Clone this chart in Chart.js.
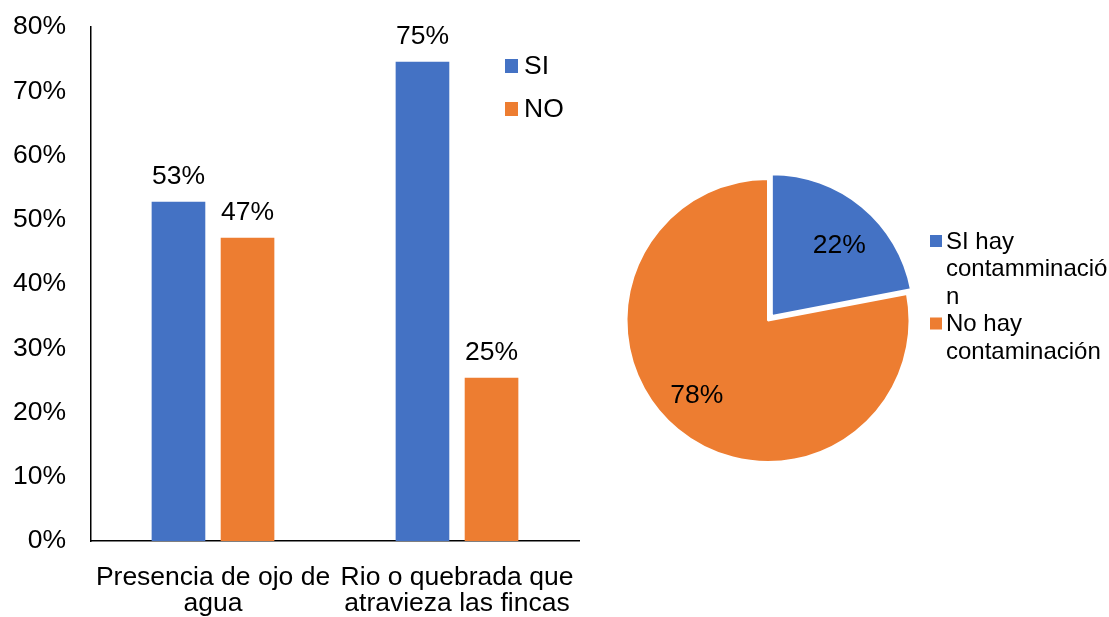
<!DOCTYPE html>
<html>
<head>
<meta charset="utf-8">
<script src="https://cdn.jsdelivr.net/npm/chart.js@4.4.0/dist/chart.umd.min.js"></script>
<style>
  html, body { margin: 0; padding: 0; background: #fff; }
  #wrap { position: relative; width: 1109px; height: 617px; }
  #bar { position: absolute; left: 0; top: 0; }
  #pie { position: absolute; left: 600px; top: 0; }
</style>
</head>
<body>
<div id="wrap">
  <canvas id="bar" width="600" height="617"></canvas>
  <canvas id="pie" width="509" height="617"></canvas>
</div>
<script>
// bar chart data
const categories = [["Presencia de ojo de", "agua"], ["Rio o quebrada que", "atravieza las fincas"]];
const seriesNames = ["SI", "NO"];
const siValues = [52.8, 74.6];
const noValues = [47.2, 25.4];
const yTickStep = 10;
const yMax = 80;

// pie chart data
const pieLabels = ["SI hay contamminación", "No hay contaminación"];
const pieLegendLines = [["SI hay", "contamminació", "n"], ["No hay", "contaminación"]];
const pieValues = [22, 78];

const BLUE = "#4472C4";
const ORANGE = "#ED7D31";
const FONT_FAMILY = '"Liberation Sans", Arial, sans-serif';

Chart.defaults.font.family = FONT_FAMILY;
Chart.defaults.color = "#000";

// value labels above the bars
const barLabels = {
  id: "barLabels",
  afterDatasetsDraw(chart) {
    const ctx = chart.ctx;
    ctx.save();
    ctx.font = "26.5px " + FONT_FAMILY;
    ctx.fillStyle = "#000";
    ctx.textAlign = "center";
    ctx.textBaseline = "middle";
    chart.data.datasets.forEach((ds, i) => {
      chart.getDatasetMeta(i).data.forEach((bar, j) => {
        ctx.fillText(Math.round(ds.data[j]) + "%", bar.x, bar.y - 25);
      });
    });
    ctx.restore();
  }
};

// legend sitting inside the plot, top right
const barLegend = {
  id: "barLegend",
  afterDraw(chart) {
    const ctx = chart.ctx;
    ctx.save();
    ctx.font = "26.5px " + FONT_FAMILY;
    ctx.textBaseline = "middle";
    ctx.textAlign = "left";
    chart.data.datasets.forEach((ds, i) => {
      const y = 66 + i * 43;
      ctx.fillStyle = ds.backgroundColor;
      ctx.fillRect(505, y - 7, 13, 14);
      ctx.fillStyle = "#000";
      ctx.fillText(ds.label, 524, y + 1);
    });
    ctx.restore();
  }
};

new Chart(document.getElementById("bar"), {
  type: "bar",
  data: {
    labels: categories,
    datasets: [
      { label: seriesNames[0], data: siValues, backgroundColor: BLUE, categoryPercentage: 0.566, barPercentage: 0.777 },
      { label: seriesNames[1], data: noValues, backgroundColor: ORANGE, categoryPercentage: 0.566, barPercentage: 0.777 }
    ]
  },
  options: {
    responsive: false,
    animation: false,
    layout: { padding: { top: 27, right: 21, left: 0, bottom: 0 } },
    plugins: { legend: { display: false }, tooltip: { enabled: false } },
    scales: {
      x: {
        grid: { display: false, drawTicks: false },
        border: { color: "#000", width: 1.5 },
        ticks: {
          font: { size: 26.5, lineHeight: 1.0 },
          color: "#000",
          padding: 23,
          maxRotation: 0,
          autoSkip: false
        },
        afterFit: (s) => { s.height = 76; s.paddingLeft = 0; s.paddingRight = 0; }
      },
      y: {
        min: 0,
        max: yMax,
        grid: { display: false, drawTicks: false },
        border: { color: "#000", width: 1.5 },
        ticks: {
          stepSize: yTickStep,
          font: { size: 26.5 },
          color: "#000",
          padding: 25,
          callback: (v) => v + "%"
        },
        afterFit: (s) => { s.width = 91; s.paddingTop = 0; s.paddingBottom = 0; }
      }
    }
  },
  plugins: [barLabels, barLegend]
});

// percent labels inside the slices
const pieValueLabels = {
  id: "pieValueLabels",
  afterDatasetsDraw(chart) {
    const ctx = chart.ctx;
    const meta = chart.getDatasetMeta(0);
    ctx.save();
    ctx.font = "26.5px " + FONT_FAMILY;
    ctx.fillStyle = "#000";
    ctx.textAlign = "center";
    ctx.textBaseline = "middle";
    meta.data.forEach((arc, i) => {
      const a = (arc.startAngle + arc.endAngle) / 2 + 0.07;
      const r = arc.outerRadius * 0.73;
      ctx.fillText(pieValues[i] + "%", arc.x + Math.cos(a) * r, arc.y + Math.sin(a) * r);
    });
    ctx.restore();
  }
};

// wrapped legend to the right of the pie
const pieLegend = {
  id: "pieLegend",
  afterDraw(chart) {
    const ctx = chart.ctx;
    const colors = chart.data.datasets[0].backgroundColor;
    ctx.save();
    ctx.font = "24px " + FONT_FAMILY;
    ctx.textBaseline = "middle";
    ctx.textAlign = "left";
    let y = 241;
    pieLegendLines.forEach((lines, i) => {
      ctx.fillStyle = colors[i];
      ctx.fillRect(330, y - 6, 12, 12);
      ctx.fillStyle = "#000";
      lines.forEach((line) => {
        ctx.fillText(line, 346, y + 1);
        y += 27.5;
      });
    });
    ctx.restore();
  }
};

new Chart(document.getElementById("pie"), {
  type: "pie",
  data: {
    labels: pieLabels,
    datasets: [{
      data: pieValues,
      backgroundColor: [BLUE, ORANGE],
      borderColor: "#fff",
      borderWidth: 2,
      offset: [24, 0],
      radius: 141.5
    }]
  },
  options: {
    responsive: false,
    animation: false,
    layout: { padding: { left: 20, right: 193, top: 50, bottom: 26 } },
    plugins: { legend: { display: false }, tooltip: { enabled: false } }
  },
  plugins: [pieValueLabels, pieLegend]
});
</script>
</body>
</html>
